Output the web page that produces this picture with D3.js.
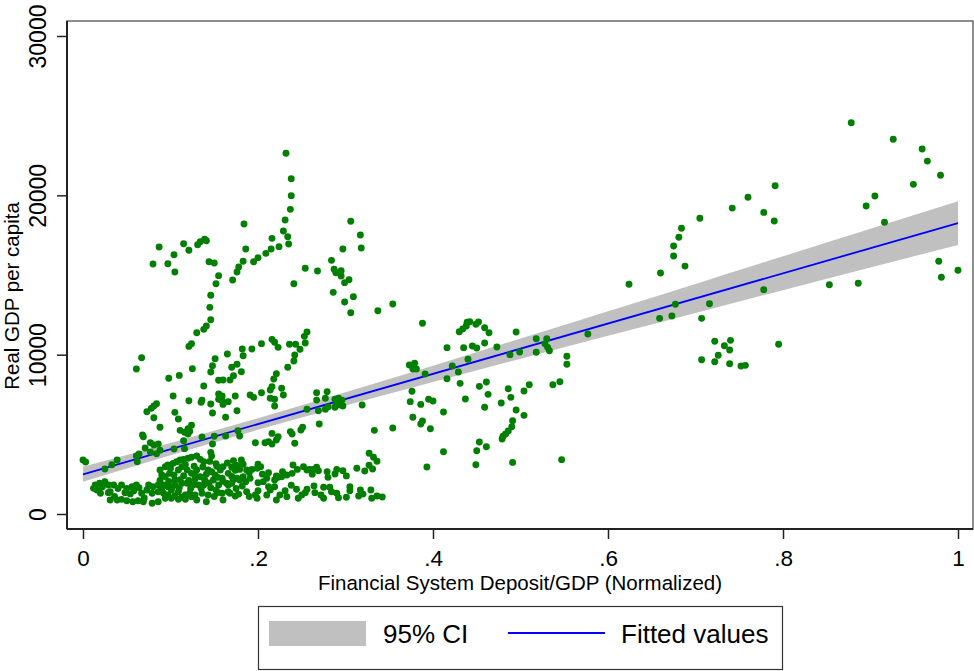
<!DOCTYPE html>
<html><head><meta charset="utf-8">
<script src="https://cdn.jsdelivr.net/npm/d3@7"></script>
<style>body{margin:0;background:#fff}svg{display:block}text{font-family:"Liberation Sans",Arial,sans-serif;fill:#000}</style>
</head><body><svg id="c" width="974" height="671"></svg>
<script>
const xTicks=[0,0.2,0.4,0.6,0.8,1];
const xTickLabels=["0",".2",".4",".6",".8","1"];
const yTicks=[0,10000,20000,30000];
const yTickLabels=["0","10000","20000","30000"];
const xTitle="Financial System Deposit/GDP (Normalized)";
const yTitle="Real GDP per capita";
const legendLabels=["95% CI","Fitted values"];
const fitX=[0,1];
const fitY=[2490,18260];
const ciX=[0,0.1,0.2,0.3,0.4,0.5,0.6,0.7,0.8,0.9,1];
const ciLow=[2020,3680,5280,6810,8290,9750,11190,12620,14050,15470,16890];
const ciHigh=[2960,4460,6010,7640,9310,11010,12720,14440,16170,17900,19630];
const points=[
[0.878,24560],[0.926,23520],[0.959,22910],[0.965,22150],[0.980,21260],[0.949,20690],[0.905,19960],[0.895,19330],[0.916,18310],[0.791,20600],[0.760,19880],[0.742,19200],[0.778,18930],[0.790,18390],[0.705,18560],[0.684,17930],[0.681,17370],[0.675,16820],[0.675,16190],[0.688,15560],[0.660,15130],[0.624,14420],[0.978,15860],[1.000,15300],[0.981,14860],[0.853,14390],[0.886,14480],[0.778,14080],[0.677,13160],[0.716,13200],[0.659,12280],[0.673,12430],[0.707,12280],[0.722,10840],[0.740,10900],[0.733,10560],[0.739,10290],[0.726,9960],[0.707,9680],[0.722,9560],[0.739,9430],[0.752,9290],[0.757,9330],[0.795,10650],
[0.354,13180],[0.337,12760],[0.388,11970],[0.439,12030],[0.442,12070],[0.452,12050],[0.449,11910],[0.438,11800],[0.434,11610],[0.430,11440],[0.459,11690],[0.464,11380],[0.495,11420],[0.416,10440],[0.435,10440],[0.445,10540],[0.450,10420],[0.459,10730],[0.473,10480],[0.518,11000],[0.530,11000],[0.528,10690],[0.531,10460],[0.533,10250],[0.518,10150],[0.499,10170],[0.488,10000],[0.553,9900],[0.553,9400],[0.440,9710],[0.373,9350],[0.379,9460],[0.377,9100],[0.381,9100],[0.422,9290],[0.429,8910],[0.391,8790],[0.416,8490],[0.431,8200],[0.461,8280],[0.453,8010],[0.486,7860],[0.510,8110],[0.504,7720],[0.537,8110],[0.545,8300],[0.376,7700],[0.463,7510],[0.489,7320],[0.395,7200],[0.400,7090],[0.374,7050],[0.386,6880],[0.437,7220],[0.478,6970],[0.459,6700],[0.495,6530],[0.412,6400],[0.504,6190],[0.377,6070],[0.388,5840],[0.386,5650],[0.491,5860],[0.490,5480],[0.486,5210],[0.483,5020],[0.480,4880],[0.479,4710],[0.354,5400],[0.397,5350],[0.453,4520],[0.461,4220],[0.450,3970],[0.412,3910],[0.393,2950],[0.449,3090],[0.491,3240],[0.547,3410],[0.577,11300],
[0.333,5250],[0.327,3810],[0.332,3560],[0.336,3310],[0.327,3060],[0.331,2820],[0.342,1070],[0.336,1130],
[0.087,16760],[0.080,15690],[0.097,15710],[0.104,16270],[0.105,15190],[0.115,16960],[0.121,16550],[0.131,16900],[0.134,17090],[0.139,17240],[0.141,17150],[0.144,15830],[0.150,15750],[0.155,14960],[0.152,14450],[0.146,13730],[0.145,12970],[0.146,12190],[0.141,11800],[0.138,11590],[0.130,11380],[0.124,10690],[0.121,10520],[0.151,9750],[0.148,9310],[0.146,8910],[0.125,9120],[0.110,8700],[0.098,8520],[0.165,10040],[0.170,9210],[0.155,8390],[0.067,9810],[0.061,9100],
[0.232,22640],[0.238,21040],[0.238,19980],[0.237,19120],[0.231,18450],[0.184,18200],[0.229,17760],[0.234,17400],[0.235,16950],[0.216,17300],[0.224,16780],[0.215,16630],[0.209,16360],[0.186,16630],[0.200,16090],[0.195,15830],[0.183,15860],[0.178,15500],[0.176,15190],[0.171,14690],[0.241,14450],
[0.306,18370],[0.317,17510],[0.318,16690],[0.297,16630],[0.284,15920],[0.254,15420],[0.268,15250],[0.287,15360],[0.289,15140],[0.295,15270],[0.295,14940],[0.299,14520],[0.304,14700],[0.286,13910],[0.309,13640],[0.299,13310],[0.306,12630],
[0.256,11420],[0.253,11150],[0.254,10730],[0.216,10960],[0.219,10780],[0.223,10460],[0.204,10690],[0.236,10650],[0.243,10650],[0.248,10340],[0.182,10360],[0.183,9930],[0.193,10360],[0.242,9980],[0.241,9600],[0.234,9210],[0.176,9400],[0.181,8930],[0.221,8810],[0.218,8470],[0.172,8680],
[0.168,8410],[0.216,7990],[0.214,7780],[0.227,7890],[0.229,7470],[0.204,7610],[0.191,7470],[0.195,7320],[0.174,7410],[0.214,7260],[0.219,7200],[0.219,6780],[0.166,7050],[0.176,6480],[0.163,6070],[0.267,7610],[0.279,7680],[0.267,7150],[0.277,7260],[0.256,6570],[0.269,6480],[0.277,6570],[0.280,6730],[0.288,7200],[0.292,7260],[0.296,7150],[0.290,6950],[0.294,6840],[0.297,6780],[0.288,6700],[0.319,6840],[0.270,5650],[0.177,5230],[0.179,4900],[0.163,4900],[0.216,5060],[0.197,4470],[0.208,4470],[0.212,4540],[0.216,4390],[0.221,4640],[0.223,4850],[0.237,5170],[0.239,5020],[0.242,4440],[0.251,5440],[0.249,5270],
[0.160,8410],[0.138,8030],[0.103,7410],[0.121,7110],[0.135,7010],[0.136,7150],[0.146,6900],[0.155,7530],[0.159,7410],[0.155,7200],[0.159,7110],[0.160,6880],[0.084,6920],[0.081,6780],[0.078,6630],[0.073,6420],[0.105,6380],[0.081,6040],[0.148,6340],[0.109,5960],[0.088,5440],[0.111,5250],[0.116,5130],[0.120,5350],[0.124,5570],[0.122,5190],[0.120,5020],[0.068,4960],[0.069,4850],[0.136,4830],[0.150,4880],[0.115,4600],[0.077,4470],[0.081,4330],[0.086,4390],[0.088,4000],[0.071,4140],[0.064,3770],[0.061,3640],[0.062,3280],[0.077,3890],[0.084,3780],[0.104,4080],[0.116,4100],[0.148,4390],[0.146,3870],[0.147,3640],[0.000,3390],[0.003,3260],[0.025,2820],[0.033,3090],[0.039,3390],
[0.088,2760],[0.094,2970],[0.097,3080],[0.103,3180],[0.107,3280],[0.111,3390],[0.115,3430],[0.120,3500],[0.124,3560],[0.130,3640],[0.134,3430],[0.138,3280],[0.143,2760],[0.147,2650],[0.151,2450],[0.157,2760],[0.160,2970],[0.166,2550],
[0.094,2340],[0.099,2550],[0.105,2130],[0.109,2760],[0.113,2970],[0.119,2760],[0.124,2550],[0.130,2760],[0.134,2340],[0.139,2130],[0.149,2130],[0.155,1820],[0.159,2240],[0.164,1930],
[0.014,1820],[0.019,1930],[0.025,2030],[0.029,1820],[0.035,1820],[0.044,1820],[0.050,1610],[0.056,1710],[0.061,1820],[0.075,1820],[0.080,1710],[0.086,1820],[0.092,1820],[0.097,1710],[0.105,1820],[0.113,1930],[0.119,1930],[0.126,1820],[0.132,1820],[0.138,1820],
[0.012,1610],[0.016,1510],[0.029,1340],[0.031,1400],[0.048,1340],[0.054,1260],[0.067,1300],[0.073,1510],[0.079,1300],[0.086,1400],[0.092,1300],[0.101,1510],[0.109,1400],[0.117,1190],[0.122,1300],[0.128,1190],[0.136,1300],[0.143,1190],[0.159,1300],[0.166,1400],
[0.031,880],[0.039,880],[0.044,920],[0.050,830],[0.057,770],[0.063,830],[0.069,770],[0.079,670],[0.086,770],[0.094,990],[0.101,990],[0.109,920],[0.117,920],[0.124,1090],[0.130,880],[0.141,770],[0.160,880],
[0.181,3390],[0.183,3120],[0.170,2930],[0.179,2800],[0.187,2760],[0.193,2800],[0.199,2870],[0.200,3120],[0.203,2970],[0.212,2590],[0.221,2390],[0.227,2340],[0.233,2450],[0.240,3080],[0.239,2550],[0.252,2970],[0.256,2760],[0.259,2800],[0.263,2800],[0.267,2930],[0.269,2720],[0.279,2650],[0.288,2510],[0.297,2720],[0.301,2390],[0.313,2870],
[0.176,2240],[0.179,2130],[0.183,2340],[0.186,2030],[0.191,2240],[0.170,1930],[0.200,1960],[0.206,2030],[0.210,2240],[0.219,2130],[0.223,2300],[0.212,1710],[0.219,1710],
[0.166,1820],[0.168,1300],[0.174,1130],[0.187,1400],[0.197,1190],[0.199,990],[0.200,1460],[0.210,1190],[0.221,880],[0.231,1460],[0.233,1090],[0.244,1550],[0.246,990],[0.254,1340],[0.256,1550],[0.264,1760],[0.265,1340],[0.275,1680],[0.275,990],[0.282,1680],[0.284,1400],[0.292,1020],[0.301,1050],[0.305,1710],[0.305,1460],[0.317,1510],[0.315,1130],[0.329,1510],[0.330,990],
[0.145,3300],[0.152,3150],[0.165,3200],[0.172,3350],[0.176,3050],
[0.100,2850],[0.117,3100],[0.127,3000],[0.137,2950],[0.153,3000],[0.174,2750],
[0.090,2450],[0.104,2450],[0.115,2400],[0.128,2450],[0.141,2500],[0.154,2300],[0.170,2350],
[0.088,2100],[0.098,2050],[0.111,2150],[0.121,2100],[0.128,2200],[0.144,1950],[0.160,2050],[0.172,2150],
[0.090,1600],[0.102,1700],[0.110,1650],[0.123,1600],[0.135,1600],[0.146,1650],[0.152,1500],[0.175,1600],[0.182,1750],
[0.097,1200],[0.105,1150],[0.113,1050],[0.150,1100],[0.154,1350],[0.178,1250],[0.190,1100],
[0.022,1700],[0.040,1600],[0.058,1450],[0.064,1650],[0.070,1000],[0.036,1100],[0.020,1300],
[0.190,2600],[0.205,2500],[0.228,2650],[0.245,2800],[0.262,2500],[0.280,2300],[0.290,2800],[0.322,2700],[0.238,1800],[0.250,1200],[0.272,1200],[0.290,1300],[0.320,1250],[0.225,1200],[0.214,1500]
];

const svg=d3.select("#c");
const plot={left:67,top:21,right:973,bottom:529};
const x=d3.scaleLinear().domain([0,1]).range([83,958]);
const y=d3.scaleLinear().domain([0,30000]).range([514,36]);

svg.append("rect").attr("width",974).attr("height",671).attr("fill","#fff");

// CI band
const band=ciX.map((d,i)=>({x:d,lo:ciLow[i],hi:ciHigh[i]}));
svg.append("path").datum(band)
  .attr("d",d3.area().x(d=>x(d.x)).y0(d=>y(d.lo)).y1(d=>y(d.hi)).curve(d3.curveMonotoneX))
  .attr("fill","#c0c0c0");
// fitted line
svg.append("path").datum(fitX.map((d,i)=>[d,fitY[i]]))
  .attr("d",d3.line().x(d=>x(d[0])).y(d=>y(d[1])))
  .attr("fill","none").attr("stroke","#0000ff").attr("stroke-width",1.8);
// scatter
svg.append("g").selectAll("circle").data(points).join("circle")
  .attr("cx",d=>x(d[0])).attr("cy",d=>y(d[1])).attr("r",3.45).attr("fill","#007f00");

// frame
svg.append("rect").attr("x",plot.left).attr("y",plot.top)
  .attr("width",plot.right-plot.left).attr("height",plot.bottom-plot.top)
  .attr("fill","none").attr("stroke","#444").attr("stroke-width",1.2);

// y axis
const ya=svg.append("g").attr("transform",`translate(${plot.left},0)`)
  .call(d3.axisLeft(y).tickValues(yTicks).tickFormat((d,i)=>yTickLabels[i]).tickSize(10).tickPadding(11));
ya.select(".domain").attr("stroke","#222").attr("stroke-width",2).attr("d",`M0,${plot.top}V${plot.bottom}`);
ya.selectAll(".tick line").attr("stroke","#222").attr("stroke-width",1.5);
ya.selectAll(".tick text").attr("transform","rotate(-90)").attr("x",0).attr("y",-21).attr("dy",0)
  .attr("text-anchor","middle").style("font-size","23px").style("font-family","Liberation Sans, Arial, sans-serif").attr("fill","#000");

// x axis
const xa=svg.append("g").attr("transform",`translate(0,${plot.bottom})`)
  .call(d3.axisBottom(x).tickValues(xTicks).tickFormat((d,i)=>xTickLabels[i]).tickSize(10));
xa.select(".domain").attr("stroke","#222").attr("stroke-width",2).attr("d",`M${plot.left},0H${plot.right}`);
xa.selectAll(".tick line").attr("stroke","#222").attr("stroke-width",1.5);
xa.selectAll(".tick text").attr("y",37).attr("dy",0).style("font-size","22.5px")
  .style("font-family","Liberation Sans, Arial, sans-serif").attr("fill","#000");

// titles
svg.append("text").attr("x",(plot.left+plot.right)/2).attr("y",590).attr("text-anchor","middle")
  .style("font-size","20.5px").text(xTitle);
svg.append("text").attr("transform",`translate(19,296) rotate(-90)`).attr("text-anchor","middle")
  .style("font-size","20.5px").text(yTitle);

// legend
const lg=svg.append("g");
lg.append("rect").attr("x",258.5).attr("y",606.5).attr("width",524).attr("height",63)
  .attr("fill","#fff").attr("stroke","#333").attr("stroke-width",1.2);
lg.append("rect").attr("x",269).attr("y",621).attr("width",97).attr("height",25).attr("fill","#c0c0c0");
lg.append("text").attr("x",383).attr("y",643).style("font-size","26px").text(legendLabels[0]);
lg.append("line").attr("x1",508).attr("x2",605).attr("y1",633).attr("y2",633)
  .attr("stroke","#0000ff").attr("stroke-width",1.8);
lg.append("text").attr("x",621).attr("y",643).style("font-size","26px").text(legendLabels[1]);
</script></body></html>
